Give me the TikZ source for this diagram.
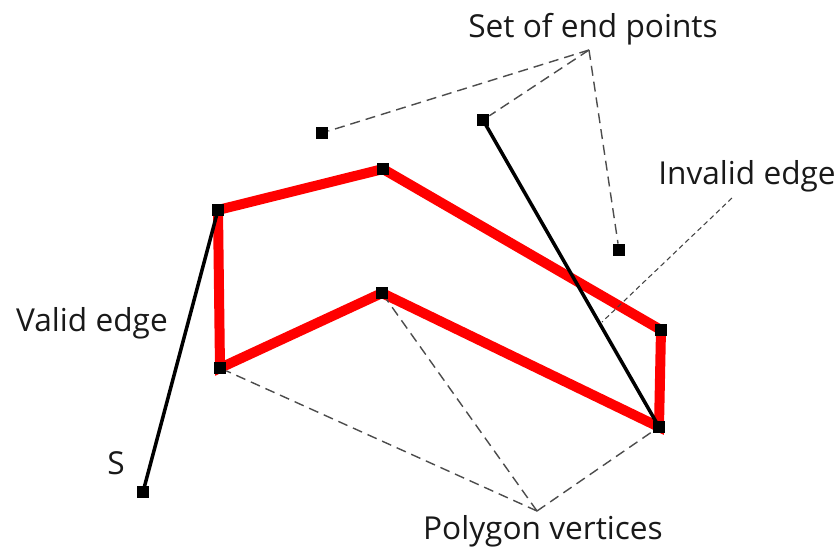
\documentclass[tikz,border=0pt]{standalone}
\usepackage{fontspec}
\setmainfont{Open Sans}
\usetikzlibrary{backgrounds}
\tikzset{
  pt/.style={fill=black,minimum size=0.24cm,inner sep=0pt},
  lbl/.style={font=\fontsize{18}{20}\selectfont,text=black!90,inner sep=0pt},
  guide/.style={dash pattern=on 0.2cm off 0.12cm,black!70,line width=0.8pt},
  fineguide/.style={dash pattern=on 0.1cm off 0.07cm,black!75,line width=0.6pt},
}
\begin{document}
\begin{tikzpicture}[x=0.02cm,y=-0.02cm]
\useasboundingbox (0,0) rectangle (840,549);

%多角形の頂点
\node[pt](v1) at (218,210){};
\node[pt](v2) at (383,169){};
\node[pt](v3) at (661,330){};
\node[pt](v4) at (659,427){};
\node[pt](v5) at (382,293){};
\node[pt](v6) at (220,368){};

%端点
\node[pt](s) at (143,492){};
\node[pt](e1) at (322,133){};
\node[pt](e2) at (483,120){};
\node[pt](e3) at (619,250){};

%ラベル
\node[lbl](setlbl) at (593,29){Set of end points};
\node[lbl](invlbl) at (747,176){Invalid edge};
\node[lbl](vallbl) at (92,323){Valid edge};
\node[lbl](slbl) at (116,463){S};
\node[lbl](polylbl) at (543,531){Polygon vertices};

\coordinate(setj) at (589,50);
\coordinate(invj) at (732,198);
\coordinate(invend) at (602,322);
\coordinate(polyj) at (537,511);

\begin{scope}[on background layer]
\draw[red,line width=0.2cm](v1.center)--(v2.center)--(v3.center)--(v4.center)--(v5.center)--(v6.center)--cycle; %多角形
\draw[line width=2pt](s.center)--(v1.center); %有効な辺
\draw[line width=2pt](e2.center)--(v4.center); %無効な辺
\draw[guide](setj)--(e1); \draw[guide](setj)--(e2); \draw[guide](setj)--(e3);
\draw[fineguide](invj)--(invend);
\draw[guide](polyj)--(v6); \draw[guide](polyj)--(v5); \draw[guide](polyj)--(v4);
\end{scope}
\end{tikzpicture}
\end{document}
